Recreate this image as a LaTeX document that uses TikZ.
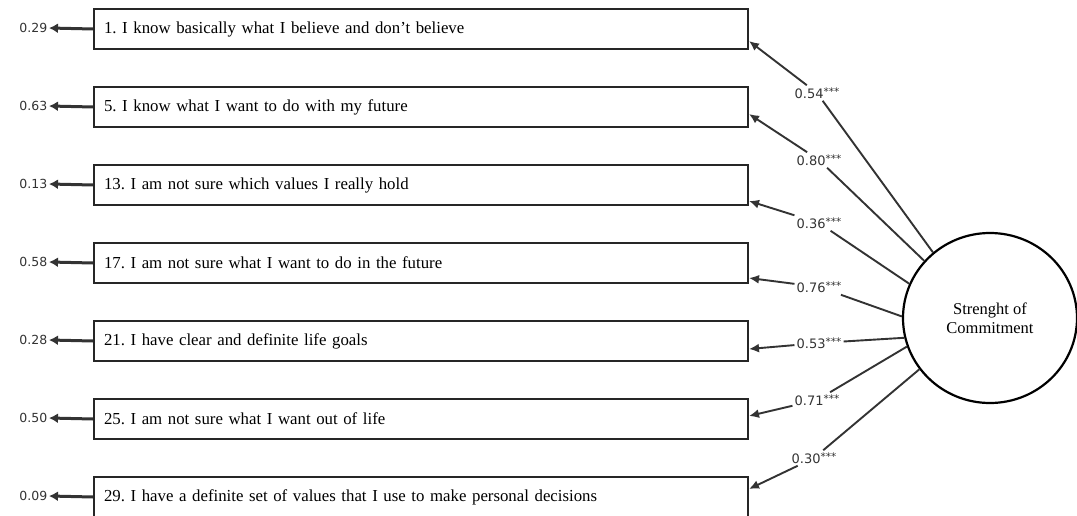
\documentclass[tikz,border=0pt]{standalone}
\usepackage{fontspec}
\setmainfont{Liberation Serif}
\newfontfamily\lblfont{DejaVu Sans}
\usetikzlibrary{arrows.meta,calc,shapes.geometric}
\frenchspacing
\newcommand{\stars}{\raisebox{0.45ex}{\fontsize{10.5}{10.5}\selectfont ***}}
\begin{document}
\begin{tikzpicture}[x=1pt,y=-1pt,
  item/.style={draw=black!85, line width=2pt, minimum width=654pt, minimum height=40pt,
    text width=634pt, inner xsep=10pt, inner ysep=0pt, align=left, anchor=north west,
    font=\fontsize{16.8}{18}\selectfont},
  err/.style={anchor=east, inner sep=1.5pt, font=\lblfont\fontsize{12.5}{14}\selectfont, text=black!80},
  errarrow/.style={line width=3pt, draw=black!80, -{Latex[length=9pt,width=10pt]}},
  load/.style={inner sep=2pt, font=\lblfont\fontsize{13}{14}\selectfont, text=black!80},
  loadarrow/.style={line width=1.9pt, draw=black!80, -{Latex[length=10pt,width=9pt]}},
  latent/.style={ellipse, draw=black, line width=2.2pt, minimum width=174pt, minimum height=170pt,
    align=center, font=\fontsize{16.5}{19}\selectfont, inner sep=0pt}]
\useasboundingbox (0,0) rectangle (1077,516);

\node[item] (b1) at (93,8)   {1. I know basically what I believe and don't believe};
\node[item] (b2) at (93,86)  {5. I know what I want to do with my future};
\node[item] (b3) at (93,164) {13. I am not sure which values I really hold};
\node[item] (b4) at (93,242) {17. I am not sure what I want to do in the future};
\node[item] (b5) at (93,320) {21. I have clear and definite life goals};
\node[item] (b6) at (93,398) {25. I am not sure what I want out of life};
\node[item] (b7) at (93,476) {29. I have a definite set of values that I use to make personal decisions};

\node[err] (e1) at (49,28)  {0.29};
\node[err] (e2) at (49,106) {0.63};
\node[err] (e3) at (49,184) {0.13};
\node[err] (e4) at (49,262) {0.58};
\node[err] (e5) at (49,340) {0.28};
\node[err] (e6) at (49,418) {0.50};
\node[err] (e7) at (49,496) {0.09};
\foreach \i in {1,...,7} \draw[errarrow] (b\i.west) -- (e\i.east);

\node[latent] (sc) at (990,318) {Strenght of\\Commitment};

\node[load] (l1) at (817,93)  {0.54\stars};
\node[load] (l2) at (819,160) {0.80\stars};
\node[load] (l3) at (819,223) {0.36\stars};
\node[load] (l4) at (819,287) {0.76\stars};
\node[load] (l5) at (819,343) {0.53\stars};
\node[load] (l6) at (817,400) {0.71\stars};
\node[load] (l7) at (814,458) {0.30\stars};

\coordinate (t1) at ([yshift=-12pt]b1.east);
\coordinate (t2) at ([yshift=-7pt]b2.east);
\coordinate (t3) at ([yshift=-16pt]b3.east);
\coordinate (t4) at ([yshift=-15pt]b4.east);
\coordinate (t5) at ([yshift=-8pt]b5.east);
\coordinate (t6) at ([yshift=3pt]b6.east);
\coordinate (t7) at ([yshift=8pt]b7.east);

\draw[loadarrow] (sc.131) -- (l1) -- (t1);
\draw[loadarrow] (sc.139) -- (l2) -- (t2);
\draw[loadarrow] (sc.157) -- (l3) -- (t3);
\draw[loadarrow] (sc.179) -- (l4) -- (t4);
\draw[loadarrow] (sc.193) -- (l5) -- (t5);
\draw[loadarrow] (sc.199) -- (l6) -- (t6);
\draw[loadarrow] (sc.216) -- (l7) -- (t7);
\end{tikzpicture}
\end{document}
